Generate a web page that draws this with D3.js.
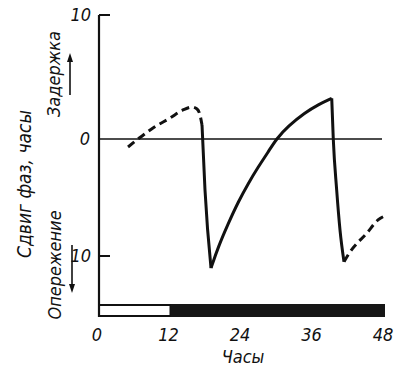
<!DOCTYPE html>
<html>
<head>
<meta charset="utf-8">
<script src="https://cdn.jsdelivr.net/npm/d3@7"></script>
<style>
  html, body { margin: 0; padding: 0; background: #fff; }
  svg { display: block; }
  text { font-family: "DejaVu Sans Condensed", "Liberation Sans", sans-serif; font-style: italic; fill: #111; }
</style>
</head>
<body>
<div id="chart"></div>
<script>
// phase shift (hours) vs time (hours); positive = delay, negative = advance
var dashedA = [[4.87, -0.68], [6.55, 0], [9.06, 0.89], [11.92, 1.69], [14.10, 2.34], [15.61, 2.58], [16.45, 2.42], [16.95, 1.94], [17.29, 1.13]];
var dropA = [[17.29, 1.13], [17.79, -4.36], [18.80, -11.03]];
var riseB = [[18.80, -11.03], [20.02, -9.21], [21.70, -7.21], [23.38, -5.36], [25.05, -3.79], [26.74, -2.37], [28.41, -1.1], [29.75, 0], [31.77, 1.05], [34.57, 2.12], [36.81, 2.78], [39.06, 3.28]];
var dropB = [[39.06, 3.28], [39.32, 0], [39.89, -4.36], [40.45, -7.78], [41.12, -10.49]];
var dashedB = [[41.12, -10.49], [42.13, -9.66], [44.98, -8.03], [46.83, -6.92], [48.29, -6.50]];

var xTicks = [0, 12, 24, 36, 48];
var yTicks = [10, 0, -10];
var yTickLabels = ["10", "0", "10"];
var lightDark = [[0, 12, "light"], [12, 48, "dark"]];

var W = 400, H = 370;
var x = d3.scaleLinear().domain([0, 48]).range([99, 385]);
var y = d3.scaleLinear().domain([-10, 0, 10]).range([256, 139, 15]);
var INK = "#111";

var svg = d3.select("#chart").append("svg").attr("width", W).attr("height", H);

// zero line
svg.append("line").attr("x1", x(0)).attr("x2", 382).attr("y1", y(0)).attr("y2", y(0))
  .attr("stroke", INK).attr("stroke-width", 1.5);

// light/dark bar
var barTop = 305, barBot = 316;
lightDark.forEach(function (d) {
  if (d[2] === "light") {
    svg.append("rect").attr("x", x(d[0])).attr("y", barTop).attr("width", x(d[1]) - x(d[0]))
      .attr("height", barBot - barTop).attr("fill", "#fff").attr("stroke", INK).attr("stroke-width", 2);
  } else {
    svg.append("rect").attr("x", x(d[0])).attr("y", barTop - 1).attr("width", x(d[1]) - x(d[0]))
      .attr("height", barBot - barTop + 2).attr("fill", "#161616");
  }
});

// y axis
svg.append("line").attr("x1", x(0)).attr("x2", x(0)).attr("y1", y(10)).attr("y2", barBot + 1)
  .attr("stroke", INK).attr("stroke-width", 2.2);
yTicks.forEach(function (t, i) {
  if (t !== 0) {
    svg.append("line").attr("x1", x(0)).attr("x2", x(0) + 11).attr("y1", y(t)).attr("y2", y(t))
      .attr("stroke", INK).attr("stroke-width", 2);
  }
  svg.append("text").attr("x", t === 0 ? 90 : 91).attr("y", y(t) + 6).attr("text-anchor", "end")
    .attr("font-size", 18).text(yTickLabels[i]);
});

// x tick labels
xTicks.forEach(function (t) {
  svg.append("text").attr("x", x(t) - 2).attr("y", 341).attr("text-anchor", "middle")
    .attr("font-size", 18).text(t);
});
svg.append("text").attr("x", 243).attr("y", 363).attr("text-anchor", "middle")
  .attr("font-size", 18).text("Часы");

// y titles
svg.append("text").attr("transform", "translate(31,184) rotate(-90)").attr("text-anchor", "middle")
  .attr("font-size", 19).text("Сдвиг фаз, часы");
svg.append("text").attr("transform", "translate(60,74) rotate(-90)").attr("text-anchor", "middle")
  .attr("font-size", 18).text("Задержка");
svg.append("text").attr("transform", "translate(61,265) rotate(-90)").attr("text-anchor", "middle")
  .attr("font-size", 18).text("Опережение");

// arrows
function arrow(x0, y0, y1) {
  var dir = y1 < y0 ? -1 : 1;
  svg.append("line").attr("x1", x0).attr("x2", x0).attr("y1", y0).attr("y2", y1 - dir * 6)
    .attr("stroke", INK).attr("stroke-width", 1.6);
  svg.append("path").attr("d", "M" + (x0 - 3) + "," + (y1 - dir * 9) + "L" + x0 + "," + y1 + "L" + (x0 + 3) + "," + (y1 - dir * 9) + "Z")
    .attr("fill", INK);
}
arrow(70, 95, 53);
arrow(72, 245, 293);

// curves
var line = d3.line().x(function (d) { return x(d[0]); }).y(function (d) { return y(d[1]); })
  .curve(d3.curveMonotoneX);
var smooth = d3.line().x(function (d) { return x(d[0]); }).y(function (d) { return y(d[1]); })
  .curve(d3.curveBasis);
[[dropA, line], [riseB, smooth], [dropB, line]].forEach(function (p) {
  svg.append("path").attr("d", p[1](p[0])).attr("fill", "none").attr("stroke", INK)
    .attr("stroke-width", 3).attr("stroke-linejoin", "round");
});
[dashedA, dashedB].forEach(function (s) {
  svg.append("path").attr("d", line(s)).attr("fill", "none").attr("stroke", INK)
    .attr("stroke-width", 3).attr("stroke-dasharray", "8,5");
});
</script>
</body>
</html>
